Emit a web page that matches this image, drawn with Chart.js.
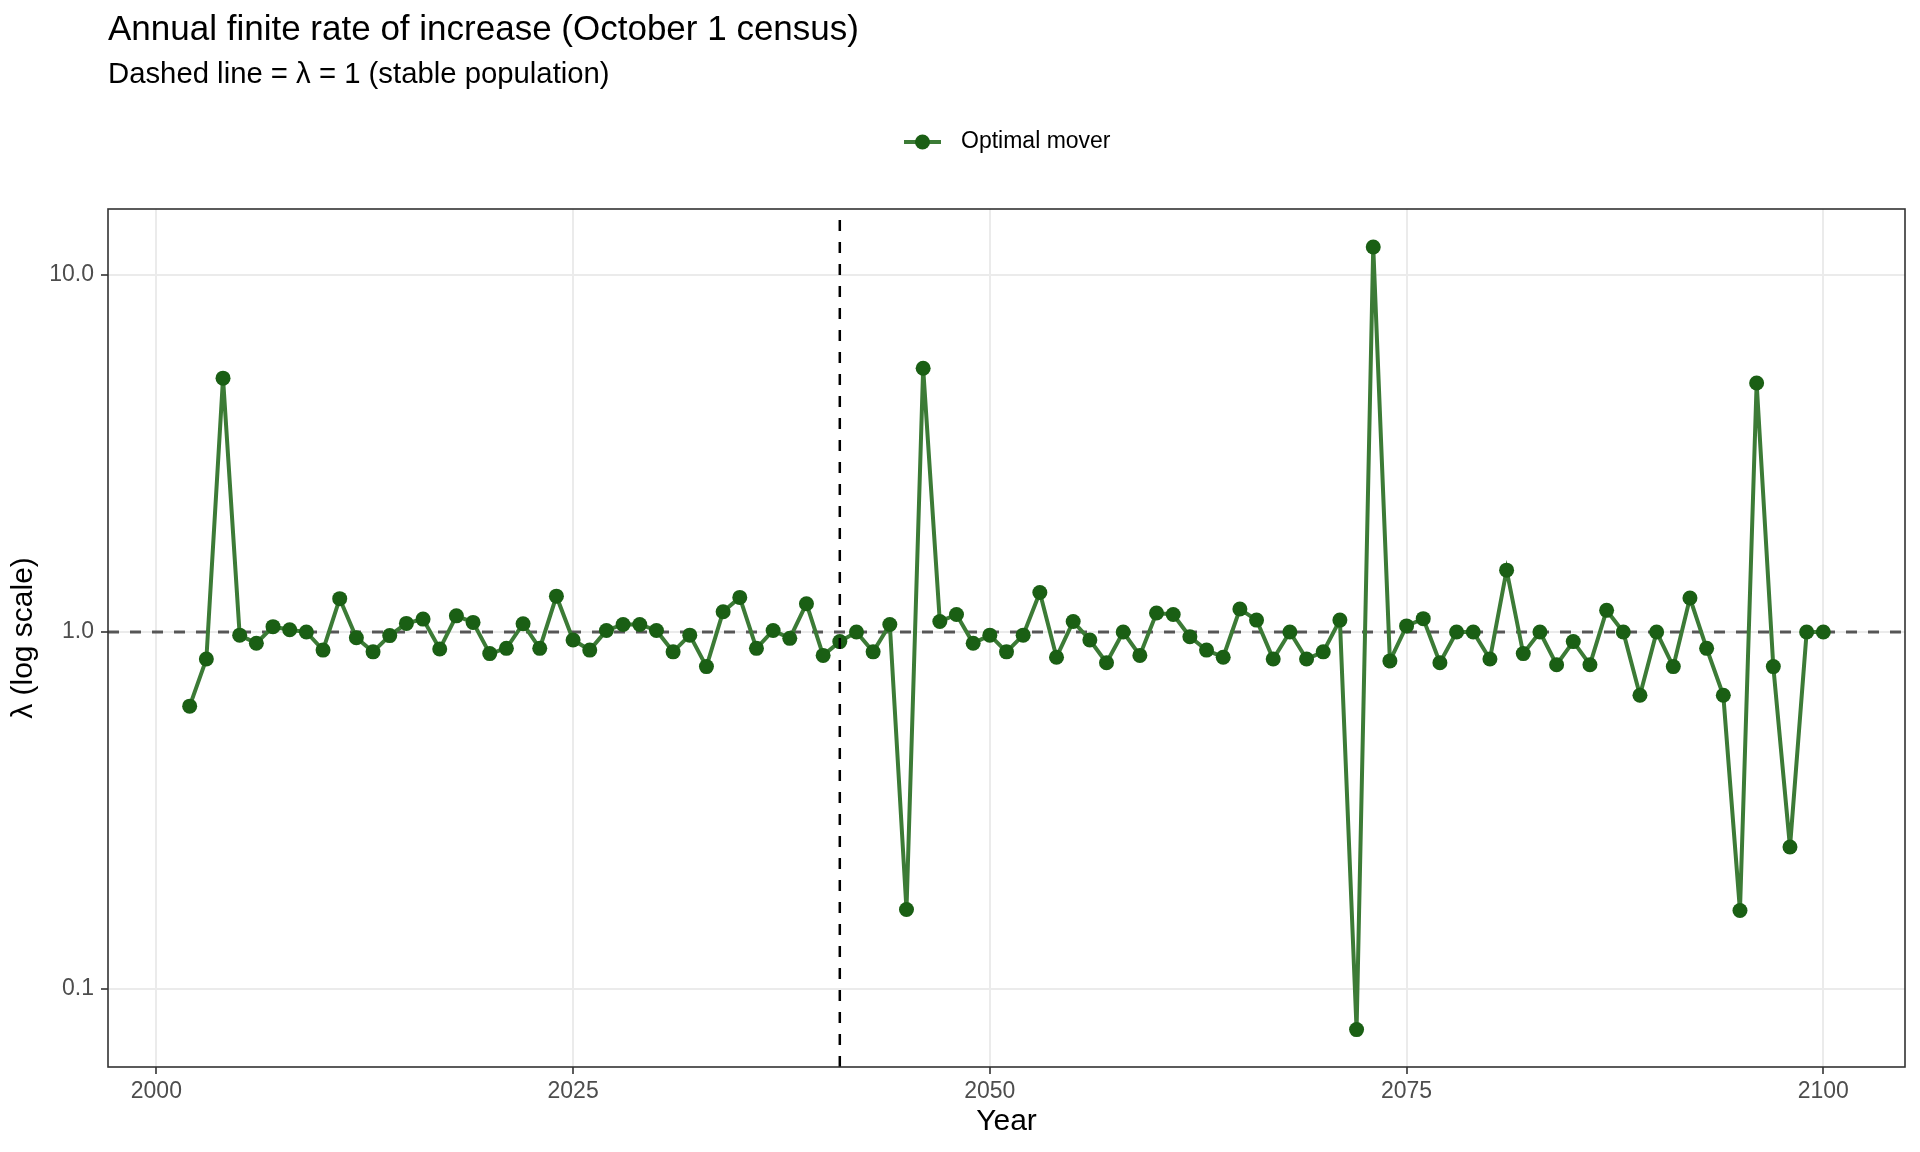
<!DOCTYPE html>
<html lang="en">
<head>
  <meta charset="UTF-8">
  <title>Annual finite rate of increase</title>
  <script src="https://cdn.jsdelivr.net/npm/chart.js"></script>
  <style>
    body {
      margin: 0;
      padding: 0;
      background: #ffffff;
    }
    #wrap {
      width: 1920px;
      height: 1152px;
    }
  </style>
</head>
<body>
  <div id="wrap">
    <canvas id="chartLambda" width="1920" height="1152"></canvas>
  </div>
  <script>
    // census years
    const years = [
      2002, 2003, 2004, 2005, 2006, 2007, 2008, 2009, 2010, 2011,
      2012, 2013, 2014, 2015, 2016, 2017, 2018, 2019, 2020, 2021,
      2022, 2023, 2024, 2025, 2026, 2027, 2028, 2029, 2030, 2031,
      2032, 2033, 2034, 2035, 2036, 2037, 2038, 2039, 2040, 2041,
      2042, 2043, 2044, 2045, 2046, 2047, 2048, 2049, 2050, 2051,
      2052, 2053, 2054, 2055, 2056, 2057, 2058, 2059, 2060, 2061,
      2062, 2063, 2064, 2065, 2066, 2067, 2068, 2069, 2070, 2071,
      2072, 2073, 2074, 2075, 2076, 2077, 2078, 2079, 2080, 2081,
      2082, 2083, 2084, 2085, 2086, 2087, 2088, 2089, 2090, 2091,
      2092, 2093, 2094, 2095, 2096, 2097, 2098, 2099, 2100
    ];

    // lambda for the "Optimal mover" series
    const lambdaOptimal = [
      0.62, 0.84, 5.14, 0.98, 0.93, 1.035, 1.015, 1.0, 0.89, 1.24,
      0.964, 0.88, 0.977, 1.057, 1.087, 0.896, 1.11, 1.064, 0.87, 0.90,
      1.055, 0.90, 1.26, 0.95, 0.89, 1.01, 1.05, 1.05, 1.01, 0.88,
      0.98, 0.80, 1.14, 1.25, 0.90, 1.01, 0.96, 1.20, 0.86, 0.94,
      1.0, 0.88, 1.05, 0.167, 5.48, 1.07, 1.12, 0.93, 0.98, 0.88,
      0.98, 1.29, 0.85, 1.07, 0.95, 0.82, 1.0, 0.86, 1.13, 1.12,
      0.97, 0.89, 0.85, 1.16, 1.08, 0.84, 1.0, 0.84, 0.88, 1.08,
      0.077, 11.98, 0.83, 1.04, 1.09, 0.82, 1.0, 1.0, 0.84, 1.49,
      0.87, 1.0, 0.81, 0.94, 0.81, 1.15, 1.0, 0.665, 1.0, 0.80,
      1.245, 0.90, 0.665, 0.166, 4.98, 0.80, 0.25, 1.0, 1.0
    ];

    const xTicks = [2000, 2025, 2050, 2075, 2100];
    const yTicks = [0.1, 1, 10];
    const yTickLabels = ['0.1', '1.0', '10.0'];

    const stableLambda = 1;   // horizontal dashed line
    const markerYear = 2041;  // vertical dashed line

    const seriesName = 'Optimal mover';
    const lineColor = '#3c7b36';
    const pointColor = '#1a5f14';
    const font = "'Liberation Sans', Arial, sans-serif";

    // reference lines, title block, legend and panel border
    const decorations = {
      id: 'decorations',
      beforeDatasetsDraw(chart) {
        const { ctx, chartArea, scales } = chart;
        const y = scales.y.getPixelForValue(stableLambda);
        ctx.save();
        ctx.beginPath();
        ctx.rect(chartArea.left, chartArea.top, chartArea.width, chartArea.height);
        ctx.clip();
        ctx.strokeStyle = 'rgba(60,60,60,0.85)';
        ctx.lineWidth = 3;
        ctx.setLineDash([11, 11]);
        ctx.beginPath();
        ctx.moveTo(chartArea.left, y);
        ctx.lineTo(chartArea.right, y);
        ctx.stroke();
        ctx.restore();
      },
      afterDatasetsDraw(chart) {
        const { ctx, chartArea, scales } = chart;
        const x = scales.x.getPixelForValue(markerYear);
        ctx.save();
        ctx.strokeStyle = '#000000';
        ctx.lineWidth = 2.5;
        ctx.setLineDash([11, 11]);
        ctx.beginPath();
        ctx.moveTo(x, chartArea.bottom);
        ctx.lineTo(x, chartArea.top);
        ctx.stroke();
        ctx.restore();
      },
      afterDraw(chart) {
        const { ctx, chartArea } = chart;
        ctx.save();
        // panel border
        ctx.strokeStyle = '#333333';
        ctx.lineWidth = 1.6;
        ctx.strokeRect(chartArea.left, chartArea.top, chartArea.width, chartArea.height);

        // title and subtitle
        ctx.fillStyle = '#000000';
        ctx.textAlign = 'left';
        ctx.textBaseline = 'alphabetic';
        ctx.font = '35px ' + font;
        ctx.fillText('Annual finite rate of increase (October 1 census)', chartArea.left, 40);
        ctx.font = '29.3px ' + font;
        ctx.fillText('Dashed line = λ = 1 (stable population)', chartArea.left, 83);

        // legend
        const legY = 142;
        ctx.strokeStyle = lineColor;
        ctx.lineWidth = 4;
        ctx.beginPath();
        ctx.moveTo(904, legY);
        ctx.lineTo(941, legY);
        ctx.stroke();
        ctx.fillStyle = pointColor;
        ctx.beginPath();
        ctx.arc(922.5, legY, 7.5, 0, Math.PI * 2);
        ctx.fill();
        ctx.fillStyle = '#000000';
        ctx.font = '23px ' + font;
        ctx.textBaseline = 'middle';
        ctx.fillText(seriesName, 961, legY);
        ctx.restore();
      }
    };

    const points = years.map((yr, i) => ({ x: yr, y: lambdaOptimal[i] }));

    new Chart(document.getElementById('chartLambda'), {
      type: 'line',
      data: {
        datasets: [{
          label: seriesName,
          data: points,
          borderColor: lineColor,
          borderWidth: 4,
          backgroundColor: pointColor,
          pointBackgroundColor: pointColor,
          pointBorderColor: pointColor,
          pointBorderWidth: 0,
          pointRadius: 7.5,
          tension: 0,
          fill: false
        }]
      },
      options: {
        responsive: false,
        animation: false,
        devicePixelRatio: 1,
        events: [],
        layout: {
          padding: { top: 209, right: 15, bottom: 0, left: 0 }
        },
        plugins: {
          legend: { display: false },
          title: { display: false },
          tooltip: { enabled: false }
        },
        scales: {
          x: {
            type: 'linear',
            min: 1997.1,
            max: 2104.9,
            afterFit: (scale) => { scale.height = 85; },
            afterBuildTicks: (scale) => { scale.ticks = xTicks.map(v => ({ value: v })); },
            grid: {
              color: '#ebebeb',
              lineWidth: 2,
              tickColor: '#333333',
              tickLength: 7,
              tickWidth: 1.6
            },
            border: { display: false },
            ticks: {
              autoSkip: false,
              maxRotation: 0,
              padding: 4,
              color: '#4d4d4d',
              font: { family: font, size: 23 },
              callback: (v) => String(v)
            },
            title: {
              display: true,
              text: 'Year',
              color: '#000000',
              font: { family: font, size: 30 },
              padding: { top: 0, bottom: 12 }
            }
          },
          y: {
            type: 'logarithmic',
            min: 0.0605,
            max: 15.3,
            afterFit: (scale) => { scale.width = 108; },
            afterBuildTicks: (scale) => { scale.ticks = yTicks.map(v => ({ value: v })); },
            grid: {
              color: '#ebebeb',
              lineWidth: 2,
              tickColor: '#333333',
              tickLength: 7,
              tickWidth: 1.6
            },
            border: { display: false },
            ticks: {
              autoSkip: false,
              padding: 7,
              color: '#4d4d4d',
              font: { family: font, size: 23 },
              callback: (v) => yTickLabels[yTicks.indexOf(v)]
            },
            title: {
              display: true,
              text: 'λ (log scale)',
              color: '#000000',
              font: { family: font, size: 30 },
              padding: { top: 6, bottom: 0 }
            }
          }
        }
      },
      plugins: [decorations]
    });
  </script>
</body>
</html>
